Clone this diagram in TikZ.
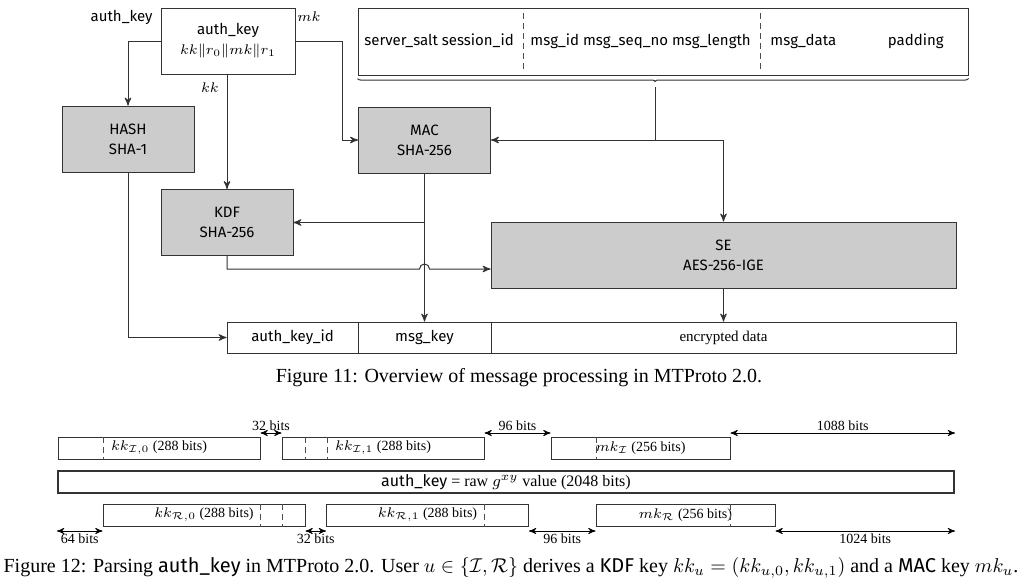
\documentclass[tikz,border=0pt]{standalone}
\usepackage{amsmath}
\usepackage{fontspec}
\setmainfont{Liberation Serif}
\setsansfont{Fira Sans}
\usetikzlibrary{calc}
\usetikzlibrary{arrows}
\usetikzlibrary{decorations.pathreplacing}

\newcommand{\sfsmall}{\sffamily\fontsize{7.5}{10}\selectfont}
\newcommand{\rmsmall}{\rmfamily\fontsize{7}{8}\selectfont}

\tikzset{
  block/.style={draw=black!80, line width=0.5pt, fill=black!20, minimum width=66pt, minimum height=33pt, align=center, font=\sfsmall, inner sep=1pt},
  cell/.style={draw=black!80, line width=0.5pt, fill=white, minimum height=15.5pt, inner sep=0pt, font=\sfsmall},
  wire/.style={draw=black!80, line width=0.5pt},
  lbl/.style={font=\sfsmall, inner sep=0pt},
  part/.style={draw=black!80, line width=0.5pt, minimum height=11pt, inner sep=0pt, font=\rmsmall},
  sep/.style={densely dashed, line width=0.4pt, draw=black!70},
  dim/.style={<->, line width=0.4pt},
}

\begin{document}
\begin{tikzpicture}[x=0.5pt, y=-0.5pt, >=stealth']
\useasboundingbox (0,0) rectangle (1024,584);

% Figure 11
\node [cell, minimum width=67pt, minimum height=33pt, align=center] (key) at (228,41) {auth\_key\\$kk\|r_0\|mk\|r_1$};
\node [lbl, anchor=east] (keylbl) at (153,17) {auth\_key};
\node [lbl] (mklbl) at (309,17) {$mk$};
\node [lbl] (kklbl) at (210,88) {$kk$};

\node [cell, minimum width=305pt, minimum height=33.5pt] (msg) at (663,41.5) {};
\node [lbl, anchor=west] (f1) at (364,41) {server\_salt session\_id};
\node [lbl, anchor=west] (f2) at (530,41) {msg\_id msg\_seq\_no msg\_length};
\node [lbl, anchor=west] (f3) at (770,41) {msg\_data};
\node [lbl, anchor=east] (f4) at (944,41) {padding};
\draw [sep] (523,13) -- (523,71);
\draw [sep] (760,13) -- (760,71);
\draw [wire, decorate, decoration={brace, mirror, amplitude=1.5pt, aspect=0.487}]
  ($(msg.south west)+(0,3)$) -- ($(msg.south east)+(0,3)$);
\coordinate (msgout) at (655,87);

\node [block] (hash) at (128,139) {HASH\\SHA-1};
\node [block] (mac) at (424.5,140) {MAC\\SHA-256};
\node [block] (kdf) at (227,222.5) {KDF\\SHA-256};
\node [block, minimum width=232.5pt] (se) at (723.5,255) {SE\\AES-256-IGE};

\node [cell, minimum width=65.5pt] (akid) at (292.5,337.5) {auth\_key\_id};
\node [cell, minimum width=66.5pt] (mkey) at (424.5,337.5) {msg\_key};
\node [cell, minimum width=232.5pt, font=\rmfamily\fontsize{7.5}{9}\selectfont] (enc) at (723.5,337.5) {encrypted data};

\coordinate (mkbend) at (342,41);
\coordinate (kdfout) at (227,269);
\draw [wire, ->] (key.west) -| (hash.north);
\draw [wire, ->] (key.south -| kdf.north) -- (kdf.north);
\draw [wire, ->] (key.east) -- (mkbend) |- (mac.west);
\draw [wire, ->] (msgout) |- (mac.east);
\draw [wire, ->] (msgout |- mac.east) -| (se.north);
\draw [wire, ->] (mac.south) -- (mkey.north);
\draw [wire, ->] (mac.south |- kdf.east) -- (kdf.east);
\draw [wire, ->] (kdf.south) -- (kdfout) -- ($(kdfout -| mac.south)+(-5,0)$)
  arc [start angle=180, end angle=360, radius=5] -- (kdfout -| se.west);
\draw [wire, ->] (hash.south) |- (akid.west);
\draw [wire, ->] (se.south) -- (enc.north);

\node [font=\fontsize{10}{12}\selectfont] (cap11) at (519,378) {Figure 11: Overview of message processing in MTProto 2.0.};

% Figure 12
\node [part, minimum width=448pt, line width=1pt, font=\rmfamily\fontsize{8}{9}\selectfont] (raw) at (506,482) {\textsf{auth\_key} = raw $g^{xy}$ value (2048 bits)};
\node [part, minimum width=101pt] (i0) at (159,448) {$kk_{\mathcal{I},0}$ (288 bits)};
\node [part, minimum width=101pt] (i1) at (383,448) {$kk_{\mathcal{I},1}$ (288 bits)};
\node [part, minimum width=89.5pt] (mi) at (640.5,448) {$mk_{\mathcal{I}}$ (256 bits)};
\node [part, minimum width=101pt] (r0) at (204,515) {$kk_{\mathcal{R},0}$ (288 bits)};
\node [part, minimum width=101pt] (r1) at (427.5,515) {$kk_{\mathcal{R},1}$ (288 bits)};
\node [part, minimum width=89.5pt] (mr) at (685.5,515) {$mk_{\mathcal{R}}$ (256 bits)};

\foreach \b/\x in {i0/103, i1/305, i1/327, mi/596, r0/260, r0/282, r1/484, mr/730}
  \draw [sep] (\x,0 |- \b.north) -- (\x,0 |- \b.south);

\coordinate (topy) at (0,433);
\coordinate (boty) at (0,531);
\draw [dim] (i0.east |- topy) -- (i1.west |- topy) node [midway, above, inner sep=1pt, font=\rmsmall] {32 bits};
\draw [dim] (i1.east |- topy) -- (mi.west |- topy) node [midway, above, inner sep=1pt, font=\rmsmall] {96 bits};
\draw [dim] (mi.east |- topy) -- (raw.east |- topy) node [midway, above, inner sep=1pt, font=\rmsmall] {1088 bits};
\draw [dim] (raw.west |- boty) -- (r0.west |- boty) node [midway, below, inner sep=1pt, font=\rmsmall] {64 bits};
\draw [dim] (r0.east |- boty) -- (r1.west |- boty) node [midway, below, inner sep=1pt, font=\rmsmall] {32 bits};
\draw [dim] (r1.east |- boty) -- (mr.west |- boty) node [midway, below, inner sep=1pt, font=\rmsmall] {96 bits};
\draw [dim] (mr.east |- boty) -- (raw.east |- boty) node [midway, below, inner sep=1pt, font=\rmsmall] {1024 bits};

\node [font=\fontsize{10}{12}\selectfont] (cap12) at (511,568) {Figure 12: Parsing \textsf{auth\_key} in MTProto 2.0. User $u \in \{\mathcal{I},\mathcal{R}\}$ derives a \textsf{KDF} key $kk_u = (kk_{u,0}, kk_{u,1})$ and a \textsf{MAC} key $mk_u$.};

\end{tikzpicture}
\end{document}
